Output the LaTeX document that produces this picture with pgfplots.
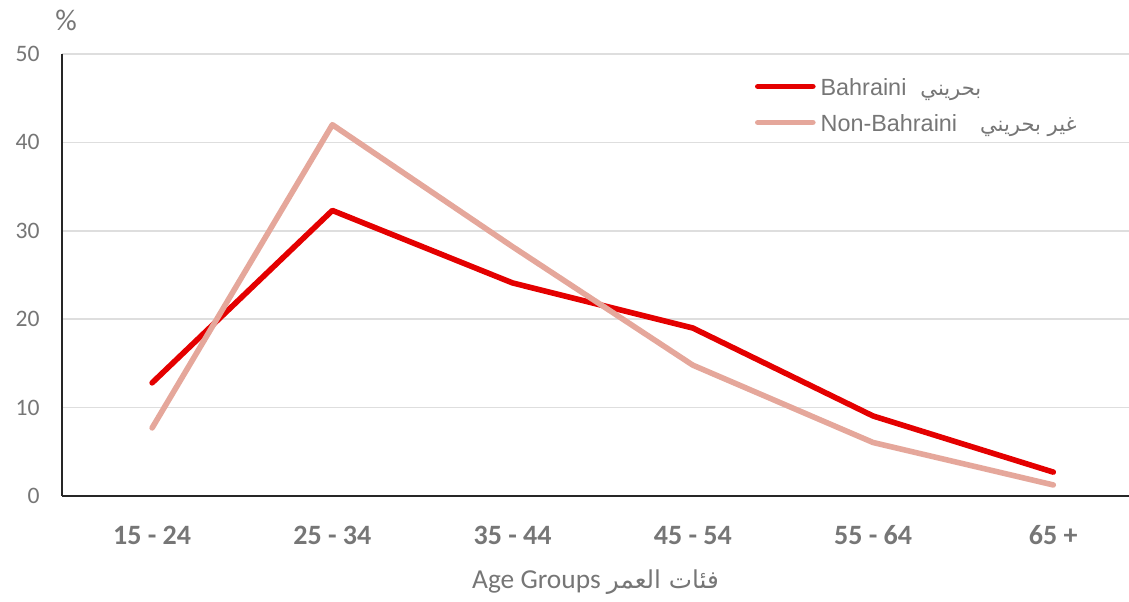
\documentclass[border=0pt]{standalone}
\usepackage{fontspec}
\setmainfont{Carlito}
\newfontfamily\arial{Liberation Sans}
\newfontfamily\arabicfont[Script=Arabic,Scale=0.9]{DejaVu Sans}
\TeXXeTstate=1
\usepackage{pgfplots}
\pgfplotsset{compat=1.18}
\definecolor{redline}{RGB}{228,0,0}
\definecolor{pinkline}{RGB}{229,167,155}
\definecolor{txtgray}{RGB}{118,118,118}
\definecolor{gridgray}{RGB}{222,222,222}
\definecolor{axisdark}{RGB}{38,38,38}
\begin{document}
\begin{tikzpicture}
\begin{axis}[
  scale only axis, width=533.5pt, height=221pt,
  xmin=-0.5, xmax=5.42, ymin=0, ymax=50,
  clip=false,
  axis x line*=bottom, axis y line*=left,
  axis line style={draw=axisdark, line width=0.8pt},
  xtick={0,...,5},
  xticklabels={15 - 24, 25 - 34, 35 - 44, 45 - 54, 55 - 64, 65 +},
  ytick={0,10,...,50},
  major tick length=0pt,
  ymajorgrids, grid style={draw=gridgray, line width=0.75pt},
  /pgf/number format/assume math mode=true,
  xticklabel style={font=\fontsize{14}{16}\selectfont\bfseries, text=txtgray, anchor=base, inner sep=0pt, yshift=-24.5pt},
  yticklabel style={font=\fontsize{11.8}{13}\selectfont, text=txtgray, anchor=east, inner sep=0pt, xshift=-11pt},
  legend style={draw=none, fill=none, at={(0.6435,0.957)}, anchor=north west,
    font=\arial\fontsize{11.7}{14}\selectfont, text=txtgray,
    nodes={inner sep=0pt, text height=9pt, text depth=3pt},
    row sep=6pt, column sep=2.5pt},
  legend cell align=left,
  legend image code/.code={\draw[#1, line cap=round] (0pt,1.5pt) -- (27.5pt,1.5pt);},
]
\addplot[redline, line width=2.8pt, line cap=round, line join=round] coordinates {
  (0,12.8) (1,32.3) (2,24.1) (3,19.0) (4,9.05) (5,2.7)
};
\addlegendentry{Bahraini\hspace{7pt}{\arabicfont\beginR بحريني\endR}}
\addplot[pinkline, line width=2.8pt, line cap=round, line join=round] coordinates {
  (0,7.7) (1,42.0) (2,28.2) (3,14.8) (4,6.05) (5,1.25)
};
\addlegendentry{Non-Bahraini\hspace{11.5pt}{\arabicfont\beginR غير بحريني\endR}}
\coordinate (bl) at (rel axis cs:0,0);
\coordinate (tr) at (rel axis cs:1,1);
\node[anchor=center, font=\fontsize{15}{17}\selectfont, text=txtgray, xshift=2pt, yshift=17pt] at (rel axis cs:0,1) {\%};
\node[anchor=base, font=\fontsize{13.7}{16}\selectfont, text=txtgray, yshift=-46.5pt] at (rel axis cs:0.5,0) {Age Groups {\arabicfont\beginR فئات العمر\endR}};
\end{axis}
\pgfresetboundingbox
\path[use as bounding box] ([shift={(-31pt,-53pt)}]bl) rectangle ([shift={(0pt,27pt)}]tr);
\end{tikzpicture}
\end{document}
